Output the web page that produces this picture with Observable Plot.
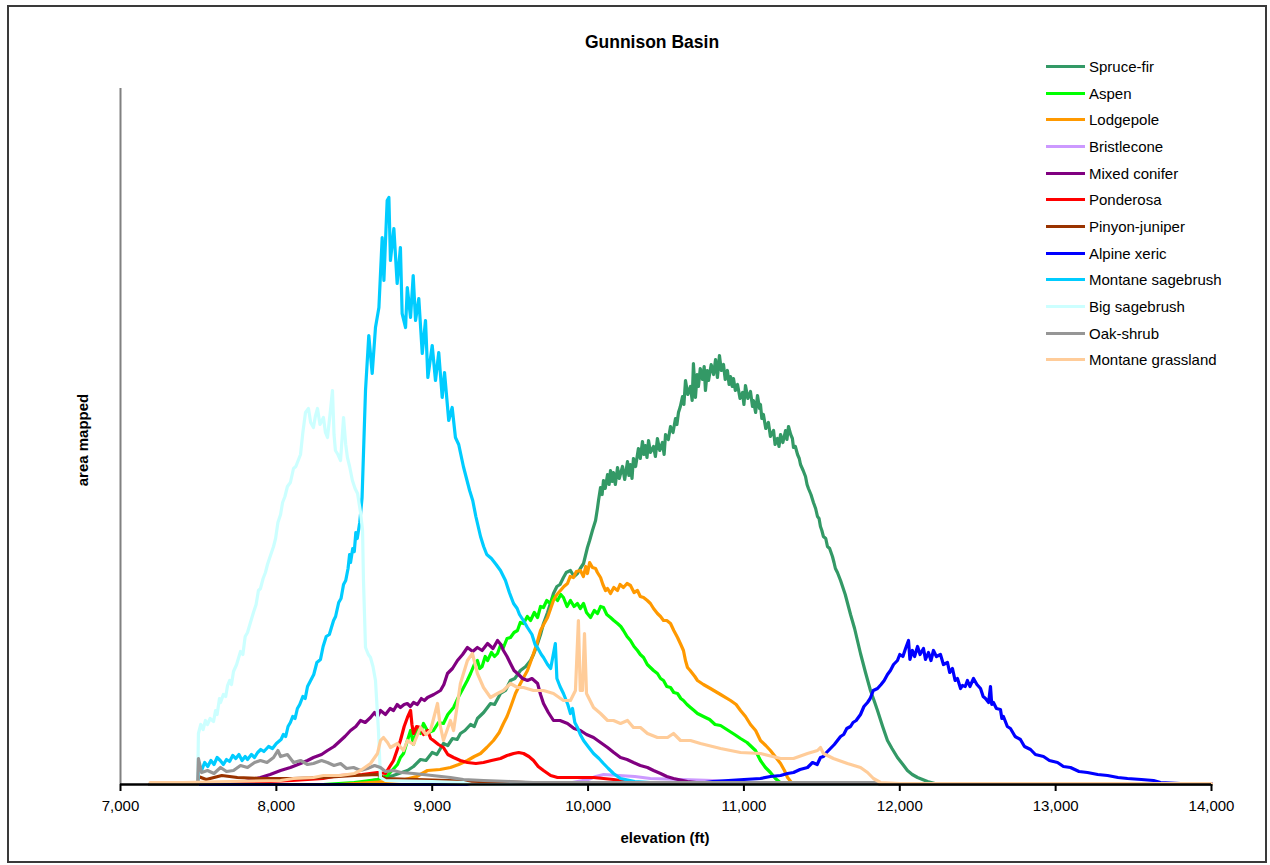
<!DOCTYPE html>
<html><head><meta charset="utf-8">
<script src="https://cdn.jsdelivr.net/npm/d3@7"></script>
<script src="https://cdn.jsdelivr.net/npm/@observablehq/plot@0.6"></script>
<style>
html,body{margin:0;padding:0;background:#fff;overflow:hidden;}
#wrap{position:relative;width:1270px;height:865px;font-family:Arial,"Liberation Sans",sans-serif;color:#000;}
#frame{position:absolute;left:7px;top:5px;width:1260px;height:858px;border:2px solid #3a3a3a;box-sizing:border-box;pointer-events:none;}
#chart{position:absolute;left:0;top:0;}
#title{position:absolute;left:552px;width:200px;top:31px;text-align:center;font-weight:bold;font-size:17.5px;line-height:22px;}
#ylab{position:absolute;left:82px;top:440px;transform:translate(-50%,-50%) rotate(-90deg);font-weight:bold;font-size:15px;white-space:nowrap;}
#xlab{position:absolute;left:665px;top:837px;transform:translate(-50%,-50%);font-weight:bold;font-size:15px;white-space:nowrap;}
#legend{position:absolute;left:1046px;top:53px;}
.li{display:flex;align-items:center;height:26.7px;font-size:15px;white-space:nowrap;}
.sw{width:39px;height:3px;margin-right:4px;}
</style></head>
<body><div id="wrap"><div id="chart"></div><div id="title">Gunnison Basin</div><div id="ylab">area mapped</div><div id="xlab">elevation (ft)</div><div id="legend"></div><div id="frame"></div></div>
<script>
// Series names and colours (legend order = drawing order)
const seriesNames = ["Spruce-fir","Aspen","Lodgepole","Bristlecone","Mixed conifer","Ponderosa","Pinyon-juniper","Alpine xeric","Montane sagebrush","Big sagebrush","Oak-shrub","Montane grassland"];
const seriesColors = ["#339966","#00ff00","#ff9900","#cc99ff","#800080","#ff0000","#993300","#0000ff","#00ccff","#ccffff","#969696","#ffcc99"];
const xTicks = [7000,8000,9000,10000,11000,12000,13000,14000];

// [elevation (ft), area mapped (relative units)]
const spruceFir = [[7190,0],[8400,0],[8550,2],[8650,5],[8750,9],[8841,14],[8880,18],[8925,25],[8960,24],[9000,32],[9030,30],[9072,41],[9100,39],[9130,46],[9160,45],[9181,51],[9210,54],[9246,60],[9270,58],[9290,66],[9330,72],[9374,81],[9400,80],[9438,91],[9470,94],[9502,104],[9530,106],[9566,114],[9600,118],[9631,124],[9650,130],[9676,141],[9695,150],[9714,161],[9740,172],[9778,191],[9800,198],[9820,200],[9842,207],[9860,212],[9887,214],[9910,208],[9932,211],[9950,216],[9971,221],[9996,237],[10010,244],[10028,254],[10048,264],[10060,276],[10067,284],[10080,297],[10090,290],[10099,304],[10110,296],[10125,310],[10135,300],[10144,314],[10155,303],[10163,312],[10175,300],[10189,317],[10200,306],[10221,318],[10235,305],[10253,323],[10262,309],[10272,320],[10282,306],[10291,326],[10305,318],[10323,336],[10335,326],[10349,343],[10358,330],[10368,339],[10378,327],[10388,344],[10400,332],[10420,338],[10432,328],[10445,346],[10460,334],[10477,342],[10488,330],[10497,350],[10515,345],[10529,358],[10545,352],[10561,366],[10570,360],[10580,372],[10592,378],[10606,388],[10615,380],[10625,404],[10640,390],[10657,398],[10668,384],[10676,421],[10689,387],[10700,410],[10708,398],[10720,416],[10734,405],[10745,418],[10753,394],[10765,414],[10773,404],[10790,420],[10805,410],[10818,425],[10830,407],[10843,429],[10855,414],[10869,420],[10880,405],[10894,414],[10905,400],[10914,408],[10925,398],[10933,406],[10945,394],[10959,400],[10975,386],[10991,392],[11000,380],[11010,399],[11025,386],[11042,393],[11055,378],[11061,384],[11075,372],[11087,389],[11100,376],[11106,380],[11115,366],[11125,370],[11140,356],[11157,362],[11170,348],[11190,354],[11200,340],[11215,346],[11225,338],[11235,350],[11250,342],[11267,354],[11276,345],[11286,358],[11300,350],[11311,346],[11318,337],[11330,338],[11344,330],[11355,326],[11363,320],[11380,314],[11395,308],[11405,300],[11414,296],[11430,290],[11446,282],[11460,276],[11472,268],[11482,266],[11491,258],[11500,254],[11510,248],[11525,246],[11536,238],[11550,236],[11568,228],[11578,222],[11587,216],[11600,212],[11620,204],[11650,190],[11684,170],[11710,156],[11748,131],[11780,112],[11812,94],[11835,84],[11857,74],[11890,58],[11921,44],[11950,36],[11985,27],[12020,20],[12049,14],[12080,10],[12114,7],[12178,3],[12250,0],[14000,0]];
const aspen = [[7190,0],[8300,0],[8500,2],[8650,5],[8713,9],[8777,20],[8796,27],[8816,31],[8841,44],[8861,54],[8880,40],[8900,57],[8925,51],[8944,61],[8975,52],[9008,54],[9040,62],[9072,61],[9100,70],[9137,77],[9170,88],[9201,97],[9225,104],[9246,111],[9270,120],[9290,124],[9305,116],[9320,118],[9340,128],[9355,124],[9380,132],[9400,128],[9419,131],[9440,140],[9457,137],[9480,146],[9502,147],[9525,152],[9547,154],[9565,162],[9586,161],[9610,168],[9631,164],[9655,172],[9676,167],[9695,178],[9714,177],[9735,184],[9759,181],[9780,188],[9804,184],[9825,190],[9842,187],[9865,178],[9887,184],[9910,178],[9932,181],[9950,176],[9971,181],[9990,172],[10016,167],[10040,174],[10061,171],[10080,178],[10099,177],[10120,170],[10144,167],[10165,164],[10189,161],[10210,158],[10227,154],[10250,148],[10272,144],[10295,138],[10317,134],[10335,130],[10356,127],[10380,120],[10400,117],[10420,114],[10445,111],[10465,106],[10484,104],[10505,98],[10529,97],[10550,92],[10574,91],[10595,86],[10612,84],[10635,80],[10657,77],[10680,74],[10702,71],[10740,68],[10780,65],[10815,60],[10850,59],[10900,54],[10940,50],[10978,46],[11020,42],[11074,34],[11106,24],[11138,17],[11170,12],[11202,6],[11240,1],[11300,0],[14000,0]];
const lodgepole = [[7190,0],[8400,0],[8600,2],[8800,4],[8900,8],[8970,14],[9050,15],[9117,17],[9170,20],[9226,24],[9270,28],[9310,31],[9350,37],[9393,44],[9430,52],[9457,61],[9480,68],[9502,77],[9534,91],[9550,96],[9566,101],[9590,108],[9611,114],[9630,122],[9650,131],[9670,140],[9695,154],[9715,160],[9740,167],[9760,176],[9778,184],[9800,190],[9823,194],[9845,198],[9868,201],[9885,208],[9906,207],[9925,213],[9951,214],[9970,208],[9985,218],[9996,211],[10010,222],[10028,217],[10048,216],[10060,212],[10080,207],[10095,200],[10112,194],[10125,196],[10144,191],[10165,197],[10189,194],[10205,200],[10227,197],[10250,201],[10272,199],[10295,192],[10317,194],[10335,188],[10356,187],[10380,184],[10400,181],[10420,176],[10445,171],[10465,168],[10484,164],[10505,164],[10529,161],[10550,154],[10574,147],[10595,140],[10612,134],[10625,124],[10638,117],[10655,114],[10670,111],[10685,108],[10702,104],[10740,100],[10785,96],[10850,90],[10914,84],[10950,80],[10978,74],[11010,68],[11042,60],[11075,54],[11106,44],[11140,39],[11170,34],[11200,28],[11235,21],[11260,14],[11280,7],[11310,1],[11400,0],[14000,0]];
const bristlecone = [[7190,0],[9700,0],[9900,2],[10000,5],[10050,8],[10100,10],[10200,9],[10300,8],[10400,6],[10600,5],[10800,4],[11000,2],[11300,1],[11500,0],[14000,0]];
const mixedConifer = [[7190,0],[7700,0],[7800,3],[7898,7],[7960,10],[8027,14],[8090,17],[8155,21],[8200,24],[8238,27],[8290,30],[8328,34],[8370,38],[8412,44],[8440,48],[8476,54],[8510,58],[8540,64],[8570,62],[8604,67],[8630,72],[8650,68],[8668,74],[8700,70],[8730,76],[8752,74],[8775,80],[8796,77],[8820,80],[8840,81],[8860,78],[8880,82],[8905,80],[8930,86],[8950,84],[8970,87],[9010,90],[9053,94],[9075,100],[9098,111],[9130,116],[9162,124],[9195,130],[9226,137],[9260,133],[9290,137],[9320,134],[9355,141],[9390,136],[9419,144],[9440,140],[9457,134],[9480,128],[9502,121],[9525,114],[9547,111],[9580,106],[9611,104],[9640,106],[9676,101],[9695,90],[9714,81],[9745,72],[9778,64],[9820,64],[9868,61],[9910,56],[9951,54],[9990,50],[10035,47],[10080,42],[10125,37],[10165,32],[10208,27],[10250,25],[10291,22],[10335,19],[10381,17],[10420,14],[10465,11],[10505,8],[10548,6],[10638,3],[10750,1],[10900,0],[14000,0]];
const ponderosa = [[7190,0],[7600,0],[7800,2],[8100,4],[8300,6],[8400,9],[8550,10],[8649,12],[8700,11],[8752,24],[8796,44],[8820,58],[8841,67],[8861,74],[8870,60],[8880,51],[8900,58],[8925,57],[8945,50],[8970,54],[8990,46],[9008,44],[9040,40],[9072,37],[9100,30],[9137,27],[9180,24],[9226,22],[9280,21],[9329,22],[9380,24],[9438,26],[9480,29],[9522,31],[9555,32],[9586,31],[9620,28],[9650,24],[9680,18],[9714,14],[9760,9],[9804,7],[9906,7],[10035,7],[10163,5],[10300,2],[10500,0],[14000,0]];
const pinyonJuniper = [[7190,0],[7495,0],[7500,8],[7550,5],[7650,9],[7750,7],[7900,6],[8100,6],[8300,7],[8500,9],[8650,10],[8700,6],[8900,5],[9100,4],[9300,3],[9600,2],[10000,1],[10500,0],[14000,0]];
const alpineXeric = [[7190,0],[10600,0],[10700,1],[10800,3],[10900,4],[11000,5],[11106,6],[11170,8],[11235,9],[11280,11],[11318,12],[11360,15],[11408,17],[11440,22],[11470,20],[11491,27],[11510,28],[11530,32],[11555,36],[11580,40],[11600,44],[11620,48],[11640,50],[11660,56],[11684,58],[11700,62],[11720,64],[11748,70],[11770,78],[11793,82],[11810,86],[11830,94],[11857,96],[11880,100],[11900,104],[11921,110],[11940,114],[11960,120],[11985,124],[12000,130],[12020,128],[12037,136],[12056,144],[12065,125],[12081,134],[12095,128],[12114,138],[12130,130],[12152,136],[12165,125],[12184,132],[12200,124],[12216,134],[12235,128],[12261,130],[12280,120],[12306,122],[12320,112],[12338,116],[12355,104],[12370,106],[12390,96],[12402,99],[12420,98],[12434,104],[12450,98],[12473,106],[12495,100],[12518,96],[12535,88],[12550,86],[12570,82],[12582,98],[12590,80],[12601,82],[12620,76],[12646,75],[12655,66],[12665,68],[12690,58],[12710,56],[12740,48],[12774,45],[12800,38],[12839,35],[12870,30],[12922,28],[12960,24],[13012,22],[13050,18],[13095,17],[13150,13],[13204,12],[13270,10],[13333,9],[13400,7],[13461,6],[13550,5],[13628,4],[13673,2],[13800,1],[14000,1]];
const montaneSagebrush = [[7190,0],[7495,0],[7500,12],[7510,18],[7520,14],[7540,22],[7560,18],[7580,24],[7600,20],[7620,27],[7640,24],[7660,20],[7680,25],[7700,23],[7720,29],[7740,26],[7760,30],[7780,24],[7800,28],[7815,25],[7840,30],[7860,27],[7880,32],[7900,35],[7920,33],[7950,38],[7975,36],[8000,41],[8030,45],[8045,50],[8060,48],[8075,58],[8090,62],[8105,68],[8120,66],[8135,76],[8150,80],[8170,88],[8185,86],[8200,98],[8220,104],[8240,110],[8260,122],[8283,125],[8300,138],[8320,148],[8340,150],[8367,164],[8380,168],[8400,182],[8415,186],[8431,200],[8445,204],[8460,216],[8470,230],[8476,222],[8490,236],[8500,233],[8510,252],[8519,246],[8535,262],[8550,287],[8572,394],[8593,449],[8615,411],[8636,457],[8658,477],[8679,547],[8690,504],[8711,584],[8722,587],[8732,524],[8754,556],[8775,501],[8796,537],[8807,471],[8829,457],[8840,497],[8861,467],[8878,509],[8893,464],[8914,486],[8936,431],[8957,464],[8972,407],[9000,439],[9021,404],[9042,432],[9064,387],[9079,412],[9106,364],[9128,377],[9149,347],[9170,340],[9200,318],[9220,306],[9240,294],[9260,284],[9280,268],[9310,248],[9330,238],[9350,230],[9380,226],[9410,220],[9438,214],[9470,204],[9495,192],[9522,181],[9545,176],[9560,170],[9585,164],[9611,157],[9640,150],[9660,140],[9675,137],[9700,130],[9714,127],[9740,120],[9760,116],[9790,141],[9800,106],[9820,98],[9842,91],[9870,80],[9887,71],[9900,76],[9915,62],[9932,57],[9950,50],[9971,44],[10000,38],[10035,31],[10070,26],[10099,21],[10130,16],[10163,11],[10208,6],[10300,3],[10500,1],[10700,0],[14000,0]];
const bigSagebrush = [[7190,0],[7495,0],[7500,51],[7515,60],[7530,55],[7545,64],[7558,60],[7575,66],[7597,63],[7610,74],[7620,70],[7635,86],[7642,82],[7660,90],[7675,88],[7687,99],[7700,104],[7712,100],[7725,113],[7745,120],[7770,133],[7785,130],[7800,148],[7815,152],[7830,160],[7853,172],[7870,180],[7885,194],[7898,196],[7915,206],[7930,212],[7943,220],[7960,228],[7982,238],[7995,246],[8010,262],[8027,270],[8040,282],[8055,288],[8071,298],[8090,302],[8110,316],[8125,318],[8140,324],[8155,330],[8170,352],[8187,372],[8206,376],[8220,362],[8238,357],[8250,368],[8264,376],[8280,360],[8302,367],[8315,352],[8328,347],[8347,374],[8360,394],[8370,350],[8379,334],[8395,330],[8412,324],[8431,367],[8445,340],[8456,327],[8470,318],[8488,304],[8505,296],[8521,291],[8540,272],[8553,254],[8559,204],[8572,137],[8590,130],[8604,127],[8620,118],[8636,104],[8655,54],[8668,7],[8700,4],[9000,3],[9200,2],[9250,0],[14000,0]];
const oakShrub = [[7190,0],[7495,0],[7500,26],[7520,12],[7558,14],[7600,11],[7642,17],[7680,13],[7725,14],[7770,19],[7815,17],[7860,22],[7898,24],[7940,22],[7982,27],[8010,34],[8027,28],[8071,30],[8110,22],[8155,24],[8200,20],[8238,21],[8290,24],[8328,22],[8370,19],[8412,21],[8450,16],[8495,17],[8540,14],[8585,16],[8630,19],[8668,17],[8700,13],[8752,14],[8800,12],[8880,11],[9000,9],[9117,7],[9200,5],[9329,4],[9500,3],[9650,2],[10000,2],[11850,2],[11870,0],[14000,0]];
const montaneGrassland = [[7190,2],[7400,2],[7700,3],[8027,4],[8110,6],[8238,7],[8302,9],[8412,9],[8500,11],[8540,14],[8604,21],[8649,31],[8668,44],[8687,47],[8713,42],[8732,37],[8777,41],[8816,34],[8841,44],[8880,40],[8925,57],[8960,50],[8989,54],[9034,81],[9050,60],[9072,44],[9117,64],[9137,54],[9181,101],[9226,124],[9258,131],[9290,111],[9329,97],[9374,87],[9419,91],[9457,94],[9502,101],[9547,97],[9586,97],[9650,94],[9714,94],[9778,91],[9842,84],[9887,84],[9919,94],[9938,164],[9950,94],[9964,94],[9977,151],[9990,91],[10035,77],[10080,71],[10125,64],[10163,64],[10208,61],[10253,64],[10291,57],[10336,57],[10381,51],[10445,47],[10510,47],[10548,51],[10593,44],[10657,44],[10721,41],[10850,36],[10978,32],[11106,31],[11235,26],[11318,26],[11408,31],[11472,34],[11491,37],[11510,31],[11574,26],[11664,21],[11748,17],[11793,12],[11831,6],[11876,2],[12000,1],[14000,1]];

const seriesData = [spruceFir,aspen,lodgepole,bristlecone,mixedConifer,ponderosa,pinyonJuniper,alpineXeric,montaneSagebrush,bigSagebrush,oakShrub,montaneGrassland];
const rows = seriesData.map((d,i) => d.map(([e,v]) => ({series: seriesNames[i], e, v})));

const lineMarks = rows.map((r,i) => Plot.line(r, {x:"e", y:"v", stroke: seriesColors[i], strokeWidth: 3.2, strokeLinejoin:"round", curve:"linear"}));

const chart = Plot.plot({
  width: 1270, height: 865,
  marginLeft: 120, marginRight: 59, marginTop: 88, marginBottom: 81,
  style: {fontFamily: "Arial, 'Liberation Sans', sans-serif", fontSize: "15px", color: "#000", background: "transparent"},
  x: {domain: [7000, 14000], ticks: xTicks, tickFormat: d3.format(","), label: null},
  y: {domain: [0, 696], axis: null},
  marks: [
    Plot.ruleX([7000], {y1: 0, y2: 696, stroke: "#808080", strokeWidth: 2}),
    ...lineMarks,
    Plot.ruleY([0], {stroke: "#000", strokeWidth: 2.5}),
    Plot.axisX({ticks: xTicks, tickFormat: d3.format(","), tickSize: 7, tickPadding: 9, strokeWidth: 2, stroke: "#000", fill: "#000", label: null})
  ]
});
document.getElementById("chart").appendChild(chart);

const leg = d3.select("#legend");
seriesNames.forEach((n,i) => {
  const row = leg.append("div").attr("class","li");
  row.append("div").attr("class","sw").style("background", seriesColors[i]);
  row.append("span").text(n);
});
</script></body></html>
